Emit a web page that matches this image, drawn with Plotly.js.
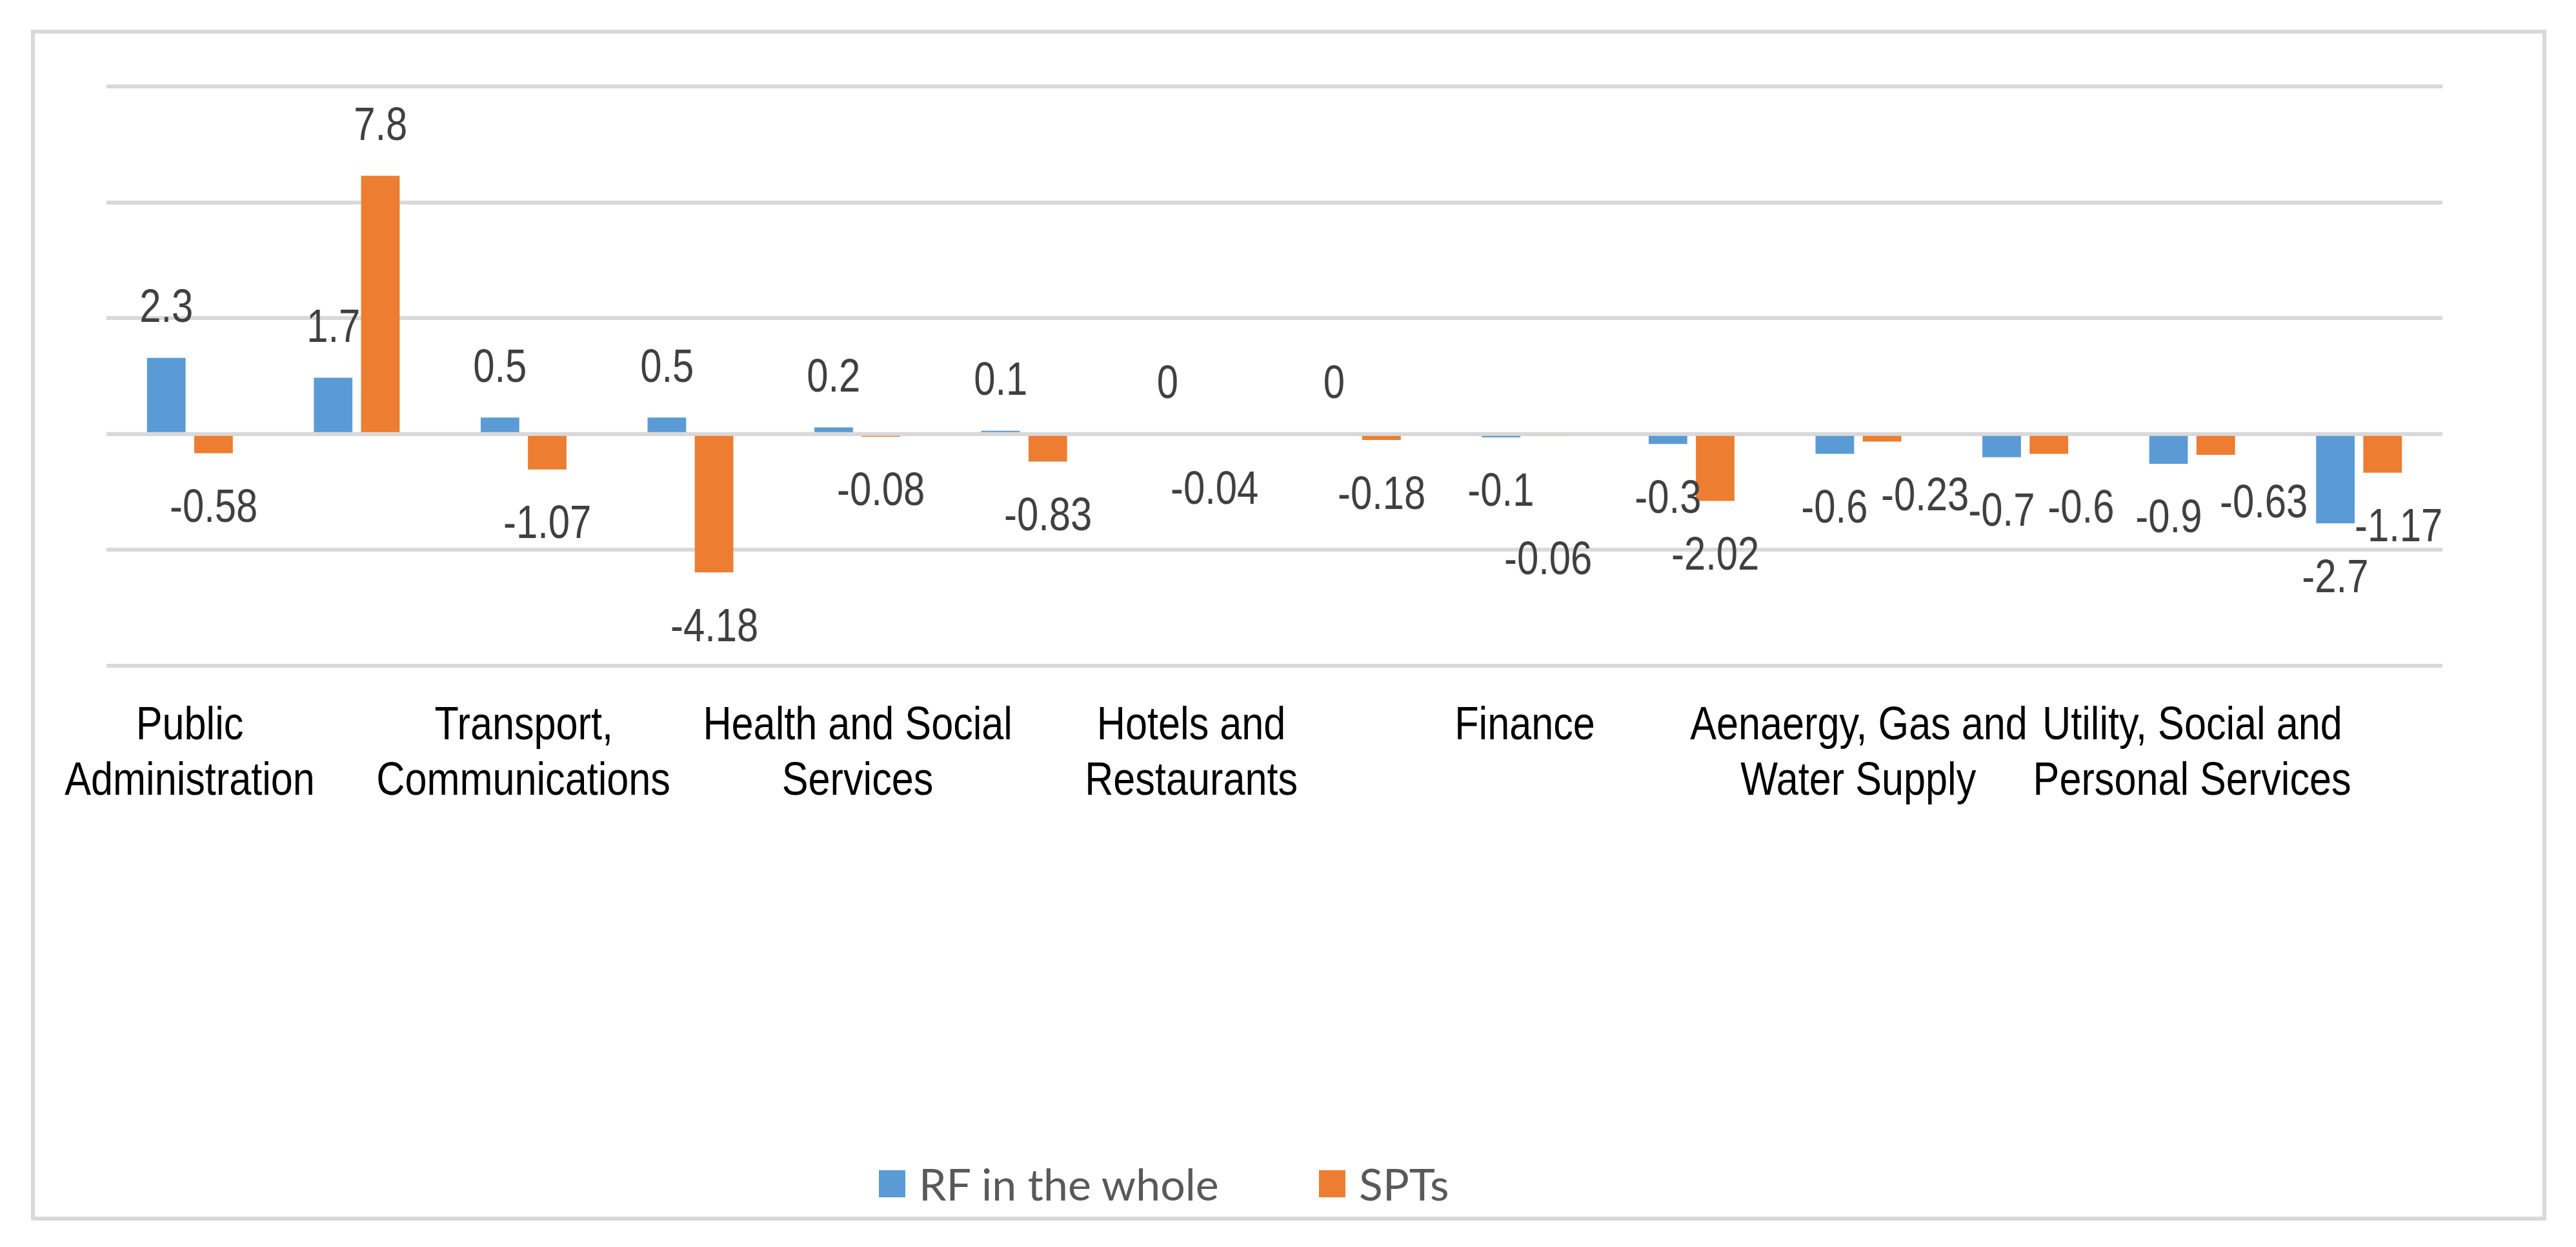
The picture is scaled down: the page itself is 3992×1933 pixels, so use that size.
<!DOCTYPE html>
<html>
<head>
<meta charset="utf-8">
<script src="https://cdn.plot.ly/plotly-3.0.1.min.js"></script>
<style>
  html, body { margin: 0; padding: 0; background: #fff; }
  #chart { width: 3992px; height: 1933px; }
</style>
</head>
<body>
<div id="chart"></div>
<script>
// sectors; only every other one carries an axis label in the original chart
const categories = [
  'Public<br>Administration', '',
  'Transport,<br>Communications', '',
  'Health and Social<br>Services', '',
  'Hotels and<br>Restaurants', '',
  'Finance', '',
  'Aenaergy, Gas and<br>Water Supply', '',
  'Utility, Social and<br>Personal Services', ''
];
const rfWhole = [2.3, 1.7, 0.5, 0.5, 0.2, 0.1, 0, 0, -0.1, -0.3, -0.6, -0.7, -0.9, -2.7];
const spts    = [-0.58, 7.8, -1.07, -4.18, -0.08, -0.83, -0.04, -0.18, -0.06, -2.02, -0.23, -0.6, -0.63, -1.17];
const seriesNames = ['RF in the whole', 'SPTs'];
const seriesColors = ['#5B9BD5', '#ED7D31'];

// hand-moved data labels in the original (pixels)
const sptNudgeX = [0, 0, 0, 0, 0, 0, 0, 0, 0, 0, 66, 50, 74, 25];
const sptNudgeY = [0, 0, 0, 0, 0, 0, 0, 0, -108, 0, 0, 0, 10, 0];

// plot box in page pixels
const W = 3992, H = 1933;
const L = 165, R = 3785, T = 133, B = 1033;
const px2x = p => (p - L) / (R - L);
const py2y = p => (B - p) / (B - T);

// no Arial Narrow here: use Liberation Sans and squeeze it afterwards
const sans = 'Liberation Sans, Arial, sans-serif';
const gridColor = '#D9D9D9';

const idx = categories.map((c, i) => i);

const data = [rfWhole, spts].map((vals, s) => ({
  type: 'bar',
  x: idx,
  y: vals,
  name: seriesNames[s],
  marker: {color: seriesColors[s]},
  hoverinfo: 'x+y',
  showlegend: false
}));

const annotations = [];
const squeezeAnn = {};   // annotation index -> horizontal scale

// data labels
[rfWhole, spts].forEach((vals, s) => {
  vals.forEach((v, i) => {
    squeezeAnn[annotations.length] = 0.82;
    annotations.push({
      x: i, y: v, xref: 'x', yref: 'y',
      text: String(v),
      showarrow: false,
      xanchor: 'center', yanchor: 'middle',
      xshift: (s === 0 ? -36.6 : 36.6) + (s === 1 ? sptNudgeX[i] : 0),
      yshift: (v >= 0 ? 81 : -81) + (s === 1 ? sptNudgeY[i] : 0),
      font: {family: sans, size: 73, color: '#404040'}
    });
  });
});

// category labels, one annotation per line so the line spacing matches
categories.forEach((c, i) => {
  if (!c) return;
  c.split('<br>').forEach((line, k) => {
    squeezeAnn[annotations.length] = 0.85;
    annotations.push({
      x: i, xref: 'x', yref: 'paper', y: py2y(1121 + 86 * k),
      text: line, showarrow: false, xanchor: 'center', yanchor: 'middle',
      font: {family: sans, size: 72, color: '#000'}
    });
  });
});

// legend drawn by hand (bar swatches in plotly are too small)
const legendSwatchLeft = [1362, 2044];
const shapes = [
  {type: 'rect', xref: 'paper', yref: 'paper', layer: 'below',
   x0: px2x(51), x1: px2x(3943), y0: py2y(1889), y1: py2y(49),
   line: {color: gridColor, width: 6}},
  {type: 'line', xref: 'paper', yref: 'y', layer: 'above',
   x0: 0, x1: 1, y0: 0, y1: 0, line: {color: gridColor, width: 6}}
];
seriesNames.forEach((n, s) => {
  const x0 = legendSwatchLeft[s];
  shapes.push({type: 'rect', xref: 'paper', yref: 'paper',
    x0: px2x(x0), x1: px2x(x0 + 41), y0: py2y(1856), y1: py2y(1814),
    fillcolor: seriesColors[s], line: {width: 0}});
  annotations.push({xref: 'paper', yref: 'paper', x: px2x(x0 + 60), y: py2y(1835),
    xanchor: 'left', yanchor: 'middle', showarrow: false, text: n,
    font: {family: 'Lato, sans-serif', size: 68, color: '#595959'}});
});

const layout = {
  width: W, height: H,
  margin: {l: L, r: W - R, t: T, b: H - B, pad: 0},
  paper_bgcolor: '#fff',
  plot_bgcolor: '#fff',
  showlegend: false,
  barmode: 'group',
  bargap: 0.434,
  bargroupgap: 0.183,
  xaxis: {
    range: [-0.5, 13.5],
    showticklabels: false,
    showgrid: false, zeroline: false, showline: false, ticks: ''
  },
  yaxis: {
    // a hair wider than -7..10.5 so the edge gridlines are kept
    range: [-7.02, 10.52], dtick: 3.5, tick0: 0,
    showticklabels: false, ticks: '',
    showgrid: true, gridcolor: gridColor, gridwidth: 6,
    zeroline: false, showline: false
  },
  shapes: shapes,
  annotations: annotations
};

Plotly.newPlot('chart', data, layout, {displayModeBar: false, staticPlot: true}).then(gd => {
  gd.querySelectorAll('g.annotation').forEach(g => {
    const k = squeezeAnn[+g.getAttribute('data-index')];
    if (!k) return;
    const t = g.querySelector('text.annotation-text');
    if (!t) return;
    t.style.transformBox = 'fill-box';
    t.style.transformOrigin = 'center';
    t.style.transform = 'scaleX(' + k + ')';
  });
});
</script>
</body>
</html>
